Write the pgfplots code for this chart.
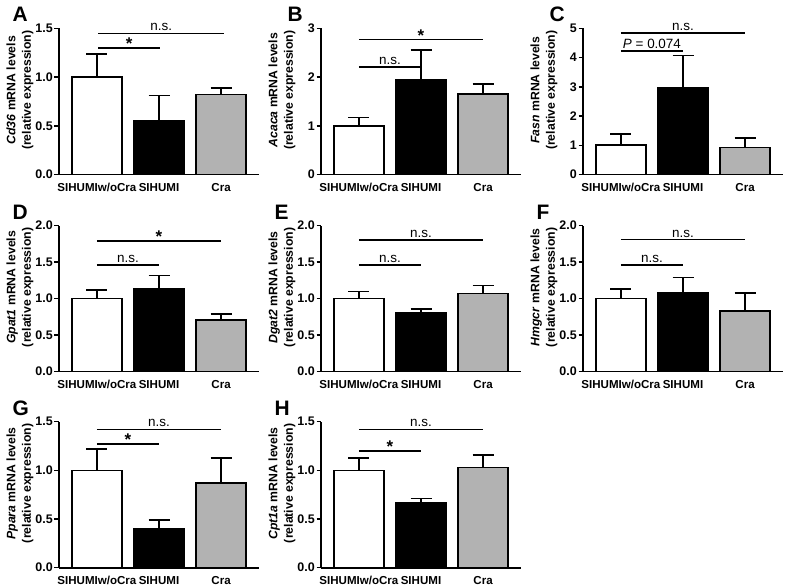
\documentclass[border=0pt]{standalone}
\usepackage{fontspec}
\setmainfont{Liberation Sans}
\usepackage{pgfplots}
\pgfplotsset{compat=1.18}
\definecolor{cragray}{RGB}{178,178,178}
\pgfplotsset{
  panel/.style={
    scale only axis, width=200bp, height=146bp,
    anchor=south west,
    xmin=-0.61, xmax=2.61, ymin=0,
    axis lines=left, axis line style={line width=1.6bp, -},
    clip=false,
    /pgf/number format/assume math mode=true,
    xtick={0,1,2}, xticklabels={SIHUMIw/oCra, SIHUMI, Cra},
    xtick align=inside, x tick style={draw=none},
    ytick align=outside, y tick style={line width=1.5bp, black},
    major tick length=4.5bp,
    xticklabel style={font=\bfseries\fontsize{11.6}{12}\selectfont, anchor=base, yshift=-17bp},
    yticklabel style={font=\bfseries\fontsize{12.5}{14}\selectfont, inner xsep=1.5bp},
    ylabel style={font=\bfseries\fontsize{12.3}{15.5}\selectfont, align=center,
      at={(axis description cs:-0.195,0.577)}, anchor=center},
  },
  onedec/.style={yticklabel style={/pgf/number format/.cd, fixed, fixed zerofill, precision=1}},
  barbase/.style={ybar, bar width=50bp, bar shift=0pt, draw=black, line width=1.6bp,
    error bars/.cd, y dir=plus, y explicit,
    error bar style={line width=1.6bp, black},
    error mark options={rotate=90, mark size=10.5bp, line width=1.6bp, black}},
  bar0/.style={fill=white, barbase},
  bar1/.style={fill=black, barbase},
  bar2/.style={fill=cragray, barbase},
}
\newcommand{\sigline}[4]{% y, x1, x2, label
  \draw[line width=1.6bp] (axis cs:#2,#1) -- (axis cs:#3,#1)
    node[pos=0.5, anchor=base, yshift=2.5bp, font=\fontsize{13.5}{13.5}\selectfont] {#4};}
\newcommand{\starline}[3]{% y, x1, x2
  \draw[line width=1.6bp] (axis cs:#2,#1) -- (axis cs:#3,#1)
    node[pos=0.5, anchor=base, yshift=-1.5bp, font=\bfseries\fontsize{17}{17}\selectfont] {*};}
\newcommand{\plabel}[2]{\node[anchor=west, font=\bfseries\fontsize{21}{21}\selectfont] at (axis description cs:#1,1.095) {#2};}
\begin{document}
\begin{tikzpicture}
\useasboundingbox (0,0) rectangle (787bp,588bp);
% A
\begin{axis}[panel, onedec, at={(59bp,413.5bp)}, ymax=1.5, ytick={0,0.5,1,1.5},
  ylabel={\textit{Cd36} mRNA levels\\(relative expression)}]
\addplot[bar0] coordinates {(0,1.00) +- (0,0.24)};
\addplot[bar1] coordinates {(1,0.55) +- (0,0.26)};
\addplot[bar2] coordinates {(2,0.82) +- (0,0.07)};
\starline{1.30}{0.02}{1.02}
\sigline{1.45}{0.02}{2.05}{n.s.}
\plabel{-0.25}{A}
\end{axis}
% B
\begin{axis}[panel, at={(321bp,413.5bp)}, ymax=3, ytick={0,1,2,3},
  ylabel={\textit{Acaca} mRNA levels\\(relative expression)}]
\addplot[bar0] coordinates {(0,1.00) +- (0,0.17)};
\addplot[bar1] coordinates {(1,1.94) +- (0,0.62)};
\addplot[bar2] coordinates {(2,1.66) +- (0,0.20)};
\sigline{2.21}{0.0}{1.0}{n.s.}
\starline{2.77}{0.0}{2.0}
\plabel{-0.185}{B}
\end{axis}
% C
\begin{axis}[panel, at={(583bp,413.5bp)}, ymax=5, ytick={0,1,2,3,4,5},
  ylabel={\textit{Fasn} mRNA levels\\(relative expression)}]
\addplot[bar0] coordinates {(0,1.00) +- (0,0.38)};
\addplot[bar1] coordinates {(1,2.97) +- (0,1.10)};
\addplot[bar2] coordinates {(2,0.93) +- (0,0.31)};
\sigline{4.22}{0.0}{1.0}{\textit{P} = 0.074}
\sigline{4.84}{0.0}{2.0}{n.s.}
\plabel{-0.185}{C}
\end{axis}
% D
\begin{axis}[panel, onedec, at={(59bp,216.3bp)}, ymax=2, ytick={0,0.5,1,1.5,2},
  ylabel={\textit{Gpat1} mRNA levels\\(relative expression)}]
\addplot[bar0] coordinates {(0,1.00) +- (0,0.12)};
\addplot[bar1] coordinates {(1,1.13) +- (0,0.19)};
\addplot[bar2] coordinates {(2,0.71) +- (0,0.08)};
\sigline{1.46}{0.0}{1.0}{n.s.}
\starline{1.79}{0.0}{2.0}
\plabel{-0.25}{D}
\end{axis}
% E
\begin{axis}[panel, onedec, at={(321bp,216.3bp)}, ymax=2, ytick={0,0.5,1,1.5,2},
  ylabel={\textit{Dgat2} mRNA levels\\(relative expression)}]
\addplot[bar0] coordinates {(0,1.00) +- (0,0.10)};
\addplot[bar1] coordinates {(1,0.80) +- (0,0.06)};
\addplot[bar2] coordinates {(2,1.07) +- (0,0.11)};
\sigline{1.46}{0.0}{1.0}{n.s.}
\sigline{1.80}{0.0}{2.0}{n.s.}
\plabel{-0.25}{E}
\end{axis}
% F
\begin{axis}[panel, onedec, at={(583bp,216.3bp)}, ymax=2, ytick={0,0.5,1,1.5,2},
  ylabel={\textit{Hmgcr} mRNA levels\\(relative expression)}]
\addplot[bar0] coordinates {(0,1.00) +- (0,0.13)};
\addplot[bar1] coordinates {(1,1.08) +- (0,0.21)};
\addplot[bar2] coordinates {(2,0.83) +- (0,0.25)};
\sigline{1.46}{0.0}{1.0}{n.s.}
\sigline{1.81}{0.0}{2.0}{n.s.}
\plabel{-0.25}{F}
\end{axis}
% G
\begin{axis}[panel, onedec, at={(59bp,20.3bp)}, ymax=1.5, ytick={0,0.5,1,1.5},
  ylabel={\textit{Ppara} mRNA levels\\(relative expression)}]
\addplot[bar0] coordinates {(0,1.00) +- (0,0.22)};
\addplot[bar1] coordinates {(1,0.40) +- (0,0.09)};
\addplot[bar2] coordinates {(2,0.87) +- (0,0.26)};
\starline{1.27}{0.0}{1.0}
\sigline{1.42}{0.0}{2.0}{n.s.}
\plabel{-0.25}{G}
\end{axis}
% H
\begin{axis}[panel, onedec, at={(321bp,20.3bp)}, ymax=1.5, ytick={0,0.5,1,1.5},
  ylabel={\textit{Cpt1a} mRNA levels\\(relative expression)}]
\addplot[bar0] coordinates {(0,1.00) +- (0,0.13)};
\addplot[bar1] coordinates {(1,0.67) +- (0,0.04)};
\addplot[bar2] coordinates {(2,1.03) +- (0,0.13)};
\starline{1.20}{0.0}{1.0}
\sigline{1.42}{0.0}{2.0}{n.s.}
\plabel{-0.25}{H}
\end{axis}
\end{tikzpicture}
\end{document}
